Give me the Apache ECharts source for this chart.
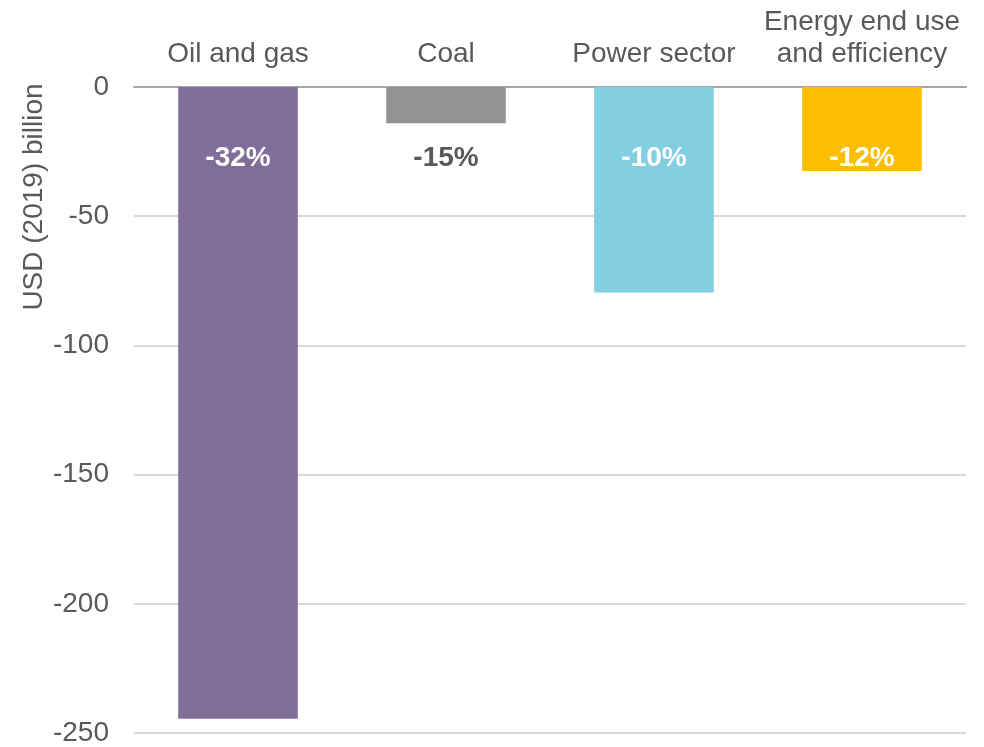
<!DOCTYPE html>
<html><head><meta charset="utf-8">
<script src="https://cdn.jsdelivr.net/npm/echarts@6/dist/echarts.min.js"></script>
<style>html,body{margin:0;padding:0;background:#fff}#c{width:984px;height:747px}</style>
</head><body><div id="c"></div>
<script>
const categories = ['Oil and gas', 'Coal', 'Power sector', 'Energy end use\nand efficiency'];
const values = [-244.5, -14, -79.5, -32.5];
const pctLabels = ['-32%', '-15%', '-10%', '-12%'];
const labelLevel = [-27.5, -27.5, -27.5, -27.5];
const barColors = ['#806d9a', '#939393', '#82cfe1', '#fdbe00'];
const labelColors = ['#ffffff', '#595959', '#ffffff', '#ffffff'];
const yTicks = [0, -50, -100, -150, -200, -250];

const font = '"Liberation Sans", Arial, sans-serif';
const chart = echarts.init(document.getElementById('c'));
chart.setOption({
  animation: false,
  grid: { left: 134, right: 18, top: 87, bottom: 13 },
  xAxis: {
    type: 'category', position: 'top', data: categories,
    axisLine: { lineStyle: { color: '#a6a6a6', width: 2 } },
    axisTick: { show: false },
    axisLabel: { color: '#595959', fontSize: 28, fontFamily: font, margin: 17, lineHeight: 32, interval: 0 }
  },
  yAxis: {
    type: 'value', min: yTicks[yTicks.length - 1], max: yTicks[0], interval: 50,
    axisLine: { show: false }, axisTick: { show: false },
    splitLine: { lineStyle: { color: '#d9d9d9', width: 2 } },
    axisLabel: { color: '#595959', fontSize: 28, fontFamily: font, margin: 25 }
  },
  graphic: [{
    type: 'text', rotation: Math.PI / 2, x: 34, y: 197,
    style: { text: 'USD (2019) billion', fill: '#595959', font: '28px ' + font, textAlign: 'center', textVerticalAlign: 'middle' }
  }],
  series: [{
    type: 'bar', barWidth: '57.5%',
    data: values.map((v, i) => ({ value: v, itemStyle: { color: barColors[i] } }))
  }, {
    type: 'scatter', symbolSize: 0, silent: true, z: 5,
    itemStyle: { opacity: 1 },
    data: labelLevel.map((v, i) => ({
      value: v,
      label: { show: true, position: 'inside', formatter: pctLabels[i], color: labelColors[i],
        opacity: 1, textBorderWidth: 0, fontSize: 28, fontWeight: 'bold', fontFamily: font }
    }))
  }]
});
</script></body></html>
